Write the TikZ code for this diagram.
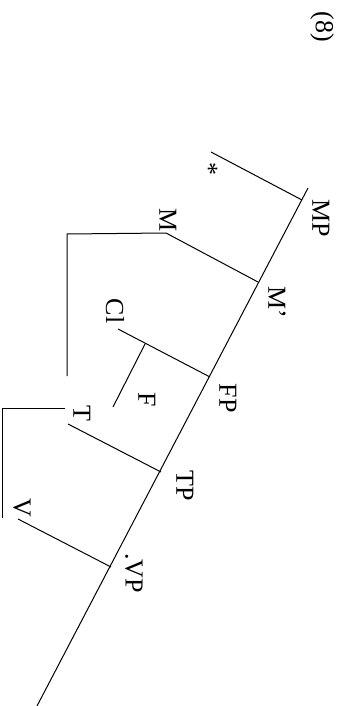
\documentclass[tikz,border=0pt]{standalone}
\usepackage{fontspec}
\setmainfont{Liberation Serif}
\begin{document}
\begin{tikzpicture}[
    x=1pt, y=-1pt,
    lab/.style={rotate=-90, inner sep=0pt, font=\fontsize{26}{31}\selectfont},
    edge/.style={line width=1pt}
]
\useasboundingbox (0,0) rectangle (340,706);

% spine of the tree
\coordinate (top) at (308,188);
\coordinate (mp) at (302,200);
\coordinate (mbar) at (258,282);
\coordinate (fp) at (210,377);
\coordinate (tp) at (161,472);
\coordinate (vp) at (111,567);
\coordinate (bot) at (37,706);

% branch ends
\coordinate (star) at (211,152);
\coordinate (m) at (166,233);
\coordinate (cl) at (118,329);
\coordinate (fjoin) at (145,344);
\coordinate (f) at (113,407);
\coordinate (t) at (68,424);
\coordinate (v) at (18,519);

% movement paths
\coordinate (mbend) at (67,234);
\coordinate (mfoot) at (67,376);
\coordinate (tstart) at (65,408);
\coordinate (tbend) at (2,408);
\coordinate (tfoot) at (2,518);

% labels
\node[lab] (num) at (322,27) {(8)};
\node[lab] (MPlab) at (321,218) {MP};
\node[lab] (Mbarlab) at (277,302) {M'};
\node[lab] (FPlab) at (228,398) {FP};
\node[lab] (TPlab) at (185,486) {TP};
\node[lab] (VPlab) at (134,573) {.VP};
\node[lab] (Starlab) at (209,169) {*};
\node[lab] (Mlab) at (168,220) {M};
\node[lab] (Cllab) at (115,311) {Cl};
\node[lab] (Flab) at (147,400) {F};
\node[lab] (Tlab) at (82,413) {T};
\node[lab] (Vlab) at (22,508) {V};

\draw[edge] (top) -- (bot);
\draw[edge] (mp) -- (star);
\draw[edge] (mbar) -- (m);
\draw[edge] (fp) -- (cl);
\draw[edge] (fjoin) -- (f);
\draw[edge] (tp) -- (t);
\draw[edge] (vp) -- (v);

\draw[edge] (m) -- (mbend) -- (mfoot);
\draw[edge] (tstart) -- (tbend) -- (tfoot);

\end{tikzpicture}
\end{document}
